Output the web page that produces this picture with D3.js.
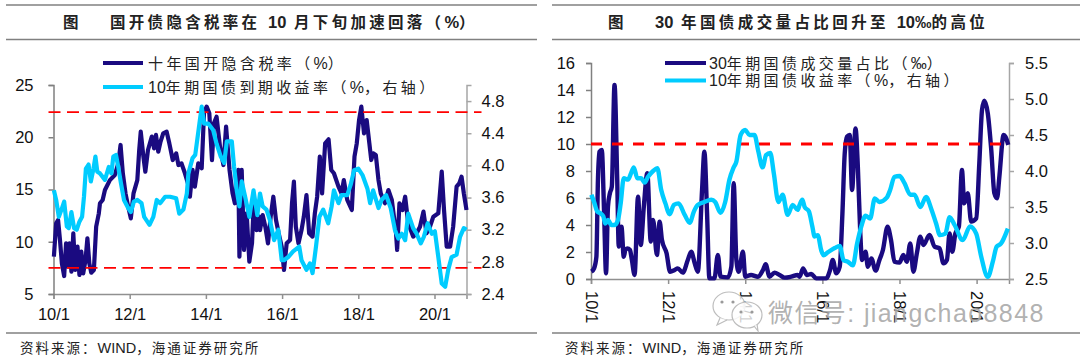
<!DOCTYPE html>
<html>
<head>
<meta charset="utf-8">
<script src="https://cdn.jsdelivr.net/npm/d3@7"></script>
<style>
  body { margin: 0; background: #fff; }
  text { font-family: "Liberation Sans", "Noto Sans CJK SC", sans-serif; }
</style>
</head>
<body>
<div id="chart-area"></div>
<script>
// all t values are years since 2010/1
var endT = 10.84;
var tickT = [0, 2, 4, 6, 8, 10];
var tickNames = ["10/1", "12/1", "14/1", "16/1", "18/1", "20/1"];

// left chart
var leftTicks = [5, 10, 15, 20, 25];
var leftRightTicks = [2.4, 2.8, 3.2, 3.6, 4.0, 4.4, 4.8];
var leftLevels = [22.4, 7.5];

var taxT = [0.01,0.07,0.12,0.17,0.22,0.28,0.33,0.38,0.42,0.47,0.52,0.57,0.63,0.68,0.73,0.78,0.84,0.89,0.94,0.99,1.06,1.12,1.19,1.22,1.29,1.35,1.48,1.61,1.70,1.76,1.82,1.89,1.96,2.03,2.10,2.20,2.25,2.29,2.36,2.41,2.48,2.58,2.64,2.69,2.75,2.81,2.88,2.97,3.04,3.13,3.22,3.28,3.36,3.45,3.54,3.58,3.65,3.71,3.80,3.89,3.95,4.02,4.09,4.16,4.21,4.28,4.37,4.46,4.53,4.62,4.70,4.76,4.85,4.88,4.94,5.00,5.07,5.14,5.21,5.26,5.33,5.40,
  5.42,5.49,5.56,5.63,5.70,5.77,5.84,5.91,5.99,6.05,6.12,6.21,6.26,6.31,6.36,6.43,6.51,6.57,6.64,6.71,6.80,6.86,6.92,6.99,7.05,7.13,7.22,7.29,7.36,7.48,7.56,7.62,7.71,7.83,7.90,7.96,8.02,8.08,8.15,8.22,8.29,8.34,8.39,8.46,8.53,8.59,8.70,8.79,8.88,8.99,9.02,9.08,9.16,9.23,9.31,9.44,9.53,9.62,9.71,9.79,9.88,9.97,10.10,10.19,10.25,10.32,10.41,10.49,10.58,10.65,10.71,10.77,10.84];
var taxRate = [8.57,11.76,12.08,10.17,7.93,6.72,9.85,7.62,9.85,7.14,10.81,7.30,9.53,6.82,9.05,6.98,8.25,10.33,7.93,7.04,7.30,11.44,12.72,13.68,14.0,14.95,15.9,16.39,17.5,19.26,16.55,14.63,13.36,12.24,14.63,15.9,18.78,20.53,18.14,16.71,18.78,20.06,18.94,20.22,18.62,19.58,20.37,20.53,19.42,17.82,18.46,17.34,17.5,16.55,15.43,14.31,16.87,15.27,17.5,17.03,22.29,22.93,22.29,17.82,21.33,21.97,19.1,17.34,21.01,16.87,14.63,13.68,16.87,8.57,16.87,9.21,12.72,8.09,9.85,13.99,11.12,12.4,
  11.12,12.56,11.44,9.85,12.4,14.31,12.08,10.81,9.53,7.3,9.85,10.17,13.68,15.75,11.44,9.85,11.12,12.4,14.47,10.81,10.49,12.72,14.31,18.14,14.63,19.42,19.8,16.87,16.55,15.27,14.63,15.9,14.0,13.04,18.14,19.42,21.65,22.93,20.37,21.65,19.42,17.82,18.46,18.3,15.9,14.63,13.68,14.95,14.0,10.81,9.21,13.68,13.04,14.31,11.76,10.49,10.81,11.44,12.88,10.81,11.44,12.4,12.72,16.71,13.04,9.53,9.53,11.44,15.27,15.59,16.23,14.63,13.04];

var yield1T = [0.01,0.07,0.14,0.21,0.28,0.35,0.40,0.47,0.54,0.61,0.68,0.75,0.80,0.85,0.92,0.98,1.05,1.10,1.15,1.22,1.35,1.45,1.52,1.57,1.64,1.70,1.77,1.85,1.96,2.03,2.11,2.20,2.31,2.38,2.52,2.62,2.71,2.80,2.93,3.06,3.22,3.30,3.41,3.50,3.54,3.65,3.72,3.83,3.89,3.95,4.06,4.19,4.28,4.39,4.48,4.55,4.68,4.74,4.81,4.88,4.94,5.03,5.14,5.25,5.35,
  5.42,5.49,5.59,5.68,5.79,5.90,5.99,6.05,6.16,6.29,6.45,6.51,6.64,6.73,6.80,6.89,6.98,7.08,7.21,7.30,7.36,7.48,7.56,7.71,7.80,7.89,8.00,8.11,8.24,8.31,8.39,8.53,8.61,8.73,8.85,8.96,9.05,9.14,9.23,9.31,9.44,9.53,9.64,9.72,9.82,9.93,10.01,10.10,10.19,10.28,10.36,10.45,10.58,10.67,10.77,10.84];
var yield1 = [3.69,3.57,3.36,3.45,3.55,3.24,3.22,3.42,3.22,3.20,3.30,3.36,3.61,3.96,4.01,3.80,3.96,4.11,3.92,3.90,3.82,3.98,3.90,4.11,4.13,3.98,3.78,3.57,3.47,3.42,3.55,3.57,3.53,3.36,3.26,3.36,3.57,3.53,3.61,3.61,3.59,3.40,3.45,3.65,3.90,4.09,4.13,4.52,4.73,4.52,4.52,4.44,4.27,4.11,4.03,4.30,4.30,3.98,3.69,3.49,3.80,3.61,3.36,3.69,3.38,
  3.65,3.49,3.45,3.32,3.07,3.20,2.82,2.82,2.86,2.93,2.99,2.82,2.70,2.78,2.66,2.99,3.36,3.45,3.28,3.49,3.69,3.53,3.63,3.63,3.76,3.94,3.96,3.88,3.71,3.53,3.69,3.47,3.57,3.63,3.47,3.20,3.09,3.15,3.07,3.40,3.22,3.15,3.03,3.11,3.28,3.15,3.18,2.86,2.53,2.49,2.70,2.86,2.89,3.11,3.22,3.20];

// right chart
var rightTicks = [0, 2, 4, 6, 8, 10, 12, 14, 16];
var rightRightTicks = [2.5, 3.0, 3.5, 4.0, 4.5, 5.0, 5.5];
var rightLevels = [10];

var shareT = [0.01,0.08,0.14,0.18,0.22,0.28,0.34,0.39,0.44,0.49,0.54,0.61,0.68,0.72,0.79,0.85,0.89,0.94,1.01,1.06,1.13,1.22,1.29,1.37,1.46,1.55,1.61,1.71,1.78,1.84,1.96,2.05,2.17,2.25,2.38,2.51,2.60,2.69,2.77,2.88,2.94,3.01,3.07,3.20,3.29,3.36,3.55,3.64,3.70,3.77,3.83,3.94,4.00,4.15,4.33,4.46,4.53,4.63,4.76,4.89,5.02,5.19,5.36,
  5.41,5.50,5.60,5.71,5.84,6.10,6.20,6.27,6.36,6.45,6.52,6.58,6.64,6.71,6.77,6.86,6.92,6.98,7.03,7.12,7.18,7.27,7.38,7.48,7.57,7.69,7.78,7.87,8.00,8.10,8.19,8.28,8.36,8.45,8.54,8.62,8.78,8.91,9.04,9.14,9.23,9.30,9.37,9.45,9.54,9.62,9.68,9.77,9.86,9.99,10.07,10.14,10.20,10.29,10.38,10.46,10.53,10.59,10.70,10.75,10.82];
var share30 = [0.54,0.79,1.65,7.33,9.43,9.56,4.86,0.42,5.36,6.35,6.84,14.37,7.33,2.40,3.88,1.65,2.15,2.27,2.15,1.41,0.30,6.10,2.52,5.36,7.83,2.77,4.37,1.78,4.25,2.89,1.90,0.54,0.67,0.79,0.47,1.41,2.02,1.16,0.54,6.59,9.43,4.86,0.05,0.05,1.78,0.17,0.12,0.91,7.09,1.41,0.54,2.02,0.17,0.30,0.17,0.67,1.09,0.17,0.47,0.30,0.10,0.17,0.30,
  0.17,0.79,0.30,0.37,0.05,0.05,0.67,1.41,0.42,0.91,4.86,9.31,10.54,10.67,6.59,11.16,8.32,3.63,1.41,2.02,0.91,1.53,0.62,1.41,2.15,3.88,2.89,1.28,1.21,1.78,1.28,2.64,0.54,1.90,3.14,2.52,3.26,2.40,2.27,1.16,1.41,3.38,2.02,3.38,3.88,8.07,5.60,6.35,4.25,4.49,8.57,12.52,13.21,12.27,9.56,6.35,5.98,7.58,10.67,10.54,9.93];

var yield2T = [0.01,0.08,0.16,0.25,0.32,0.37,0.44,0.53,0.61,0.70,0.77,0.85,0.96,1.04,1.11,1.20,1.30,1.39,1.48,1.61,1.72,1.82,1.93,2.04,2.15,2.27,2.43,2.56,2.67,2.77,2.94,3.12,3.22,3.36,3.48,3.59,3.70,3.77,3.88,4.00,4.11,4.24,4.34,4.45,4.54,4.65,4.74,4.86,4.97,5.10,5.23,5.36,
  5.41,5.48,5.54,5.65,5.74,5.80,5.88,5.97,6.03,6.14,6.32,6.45,6.55,6.66,6.79,6.90,7.01,7.12,7.24,7.36,7.48,7.67,7.76,7.87,8.00,8.13,8.28,8.39,8.54,8.69,8.82,8.95,9.05,9.19,9.30,9.43,9.64,9.83,9.99,10.12,10.29,10.42,10.52,10.63,10.81];
var yield2 = [3.67,3.57,3.44,3.41,3.37,3.27,3.32,3.25,3.25,3.32,3.55,3.90,3.88,3.97,4.05,3.90,3.90,3.84,3.92,4.00,4.04,3.74,3.55,3.40,3.53,3.55,3.39,3.28,3.44,3.53,3.57,3.60,3.57,3.42,3.57,3.88,4.05,4.13,4.50,4.57,4.50,4.50,4.27,4.05,4.22,4.25,3.97,3.57,3.67,3.39,3.53,3.46,
  3.53,3.60,3.50,3.44,3.23,3.09,3.11,2.90,2.83,2.87,2.93,2.96,2.76,2.74,2.69,2.99,3.23,3.38,3.34,3.62,3.57,3.63,3.74,3.92,3.93,3.83,3.67,3.67,3.50,3.64,3.48,3.27,3.11,3.13,3.36,3.25,3.04,3.23,3.13,2.81,2.53,2.74,2.95,2.99,3.20];

var navy = "#1a0a80", cyan = "#00ccff", red = "#ff0000";

var svg = d3.select("#chart-area").append("svg")
  .attr("width", 1080)
  .attr("height", 363);

function pairs(ts, vs) {
  return ts.map(function(t, i) { return [t, vs[i]]; });
}

function rule(x1, x2, y) {
  svg.append("line")
    .attr("x1", x1).attr("x2", x2).attr("y1", y).attr("y2", y)
    .attr("stroke", "#808080").attr("stroke-width", 1.6);
}

// latin runs stay tight and a bit bigger, the chinese runs get the wide spacing
function label(txt, x, y, size, spacing, weight) {
  var t = svg.append("text")
    .attr("x", x).attr("y", y)
    .attr("font-size", size)
    .attr("font-weight", weight || "normal")
    .attr("fill", "#222");
  txt.split(/([0-9A-Za-z%‰]+)/).forEach(function(run) {
    if (!run) return;
    var latin = /^[0-9A-Za-z%‰]/.test(run);
    t.append("tspan")
      .attr("font-size", latin ? size + 1 : size)
      .attr("letter-spacing", latin ? 0 : spacing)
      .text(run);
  });
  return t;
}

function styleAxis(g, color) {
  g.selectAll("path, line").attr("stroke", color).attr("stroke-width", 1.5);
  g.selectAll("text").attr("font-size", 16.5).attr("fill", "#111")
    .style("font-family", '"Liberation Sans", sans-serif');
}

function drawPanel(o) {
  var x = d3.scaleLinear().domain([0, endT]).range([o.left, o.right]);
  var y = d3.scaleLinear().domain(o.yDomain).range([o.bottom, o.top]);
  var y2 = d3.scaleLinear().domain(o.y2Domain).range([o.bottom, o.top]);

  var xAxis = svg.append("g")
    .attr("transform", "translate(0," + o.bottom + ")")
    .call(d3.axisBottom(x).tickValues(tickT)
      .tickFormat(function(d, i) { return tickNames[i]; })
      .tickSizeOuter(0).tickSize(5).tickPadding(o.xPadding));
  styleAxis(xAxis, "#909090");
  if (o.rotate) {
    xAxis.selectAll("text")
      .attr("transform", "rotate(90)")
      .attr("text-anchor", "start")
      .attr("x", 12).attr("y", 0).attr("dy", "0.35em");
  }

  var yAxis = svg.append("g")
    .attr("transform", "translate(" + o.left + ",0)")
    .call(d3.axisLeft(y).tickValues(o.yTicks).tickFormat(d3.format("d"))
      .tickSizeOuter(0).tickSize(5).tickPadding(o.yPadding));
  styleAxis(yAxis, "#808080");

  var rAxis = svg.append("g")
    .attr("transform", "translate(" + o.right + ",0)")
    .call(d3.axisRight(y2).tickValues(o.y2Ticks).tickFormat(d3.format(".1f"))
      .tickSizeOuter(0).tickSize(5).tickPadding(o.rPadding));
  styleAxis(rAxis, "#a6a6a6");

  var line1 = d3.line()
    .x(function(d) { return x(d[0]); })
    .y(function(d) { return y(d[1]); })
    .curve(o.curve);
  var line2 = d3.line()
    .x(function(d) { return x(d[0]); })
    .y(function(d) { return y2(d[1]); })
    .curve(o.curve);

  svg.append("path")
    .attr("d", line1(o.dark))
    .attr("fill", "none").attr("stroke", navy)
    .attr("stroke-width", o.lineW).attr("stroke-linejoin", "round");

  o.levels.forEach(function(v) {
    svg.append("line")
      .attr("x1", o.left - o.dashBefore).attr("x2", o.right + o.dashAfter)
      .attr("y1", y(v)).attr("y2", y(v))
      .attr("stroke", red).attr("stroke-width", o.dashW)
      .attr("stroke-dasharray", o.dash);
  });

  svg.append("path")
    .attr("d", line2(o.light))
    .attr("fill", "none").attr("stroke", cyan)
    .attr("stroke-width", o.lineW).attr("stroke-linejoin", "round");
}

drawPanel({
  left: 53.5, right: 466.5, top: 85, bottom: 294,
  yDomain: [5, 25], y2Domain: [2.4, 5.0],
  yTicks: leftTicks, y2Ticks: leftRightTicks,
  dark: pairs(taxT, taxRate), light: pairs(yield1T, yield1),
  levels: leftLevels,
  dashBefore: 5, dashAfter: 15, dashW: 1.6, dash: "12,6.5",
  lineW: 4.2, curve: d3.curveLinear,
  xPadding: 9, yPadding: 15, rPadding: 10
});

drawPanel({
  left: 591, right: 1009, top: 63, bottom: 279,
  yDomain: [0, 16], y2Domain: [2.5, 5.5],
  yTicks: rightTicks, y2Ticks: rightRightTicks,
  dark: pairs(shareT, share30), light: pairs(yield2T, yield2),
  levels: rightLevels,
  dashBefore: 0, dashAfter: 0, dashW: 3, dash: "11,10",
  lineW: 4.4, curve: d3.curveMonotoneX,
  rotate: true, xPadding: 9, yPadding: 11, rPadding: 11
});

// panel frames
rule(6, 537, 5); rule(6, 537, 39.5); rule(6, 537, 333);
rule(552, 1080, 5); rule(552, 1080, 39.5); rule(552, 1080, 333);

// titles
label("图", 63, 28, 15.5, 0, "bold");
label("国开债隐含税率在 10 月下旬加速回落（%）", 110, 28, 15.5, 3.3, "bold");
label("图", 608, 28, 15.5, 0, "bold");
label("30 年国债成交量占比回升至 10‰的高位", 655, 28, 15.5, 3.4, "bold");

// legends
[[103, 143, 63, navy, "十年国开隐含税率（%）", 148], [103, 143, 87, cyan, "10年期国债到期收益率（%，右轴）", 148],
 [665, 706, 63, navy, "30年期国债成交量占比（‰）", 709], [665, 706, 80.5, cyan, "10年期国债收益率（%，右轴）", 709]]
  .forEach(function(l) {
    svg.append("line")
      .attr("x1", l[0]).attr("x2", l[1]).attr("y1", l[2]).attr("y2", l[2])
      .attr("stroke", l[3]).attr("stroke-width", 4);
    label(l[4], l[5], l[2] + 5.5, 15, 3.4);
  });

// source notes
label("资料来源：WIND，海通证券研究所", 20, 353, 13.5, 2);
label("资料来源：WIND，海通证券研究所", 565, 353, 13.5, 2);

// wechat watermark
var mark = svg.append("g").attr("fill", "#fff").attr("fill-opacity", 0.8)
  .attr("stroke", "#bdbdbd").attr("stroke-width", 1.2);
mark.append("ellipse").attr("cx", 729).attr("cy", 306).attr("rx", 16).attr("ry", 14);
mark.append("path").attr("d", "M720,318 L717,325 L727,320");
mark.append("ellipse").attr("cx", 747).attr("cy", 315).attr("rx", 15).attr("ry", 13);
mark.append("path").attr("d", "M754,326 L758,331 L757,324");
svg.append("g").attr("fill", "#9a9a9a").selectAll("circle")
  .data([[722, 302], [733, 302], [741, 312], [752, 312]])
  .enter().append("circle")
  .attr("cx", function(d) { return d[0]; })
  .attr("cy", function(d) { return d[1]; })
  .attr("r", 1.6);

svg.append("text")
  .attr("x", 768).attr("y", 322)
  .attr("font-size", 25).attr("letter-spacing", 1.4)
  .attr("fill", "#a8a8a8").attr("fill-opacity", 0.9)
  .text("微信号: jiangchao8848");
</script>
</body>
</html>
